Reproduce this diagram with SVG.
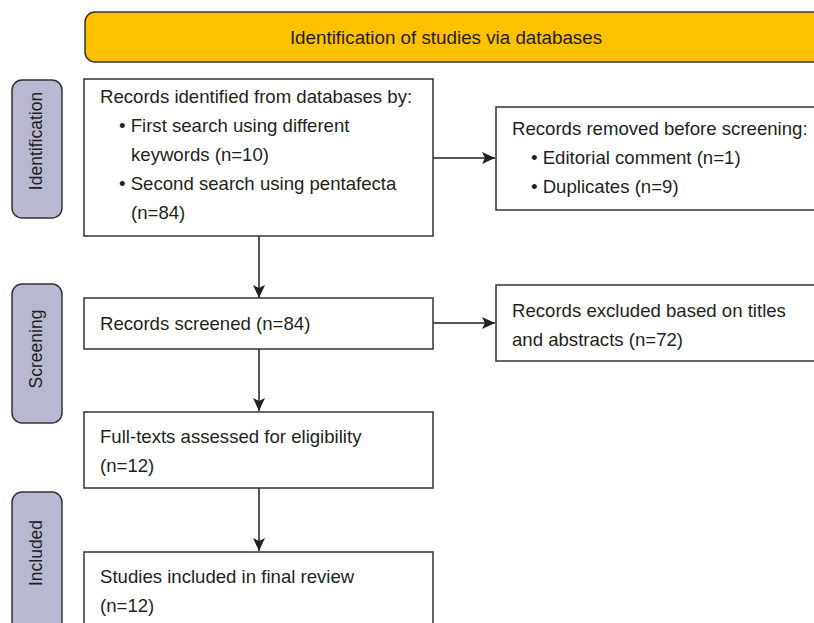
<svg xmlns="http://www.w3.org/2000/svg" width="814" height="623" viewBox="0 0 814 623">
<defs>
<style>
.box{fill:#fff;stroke:#333;stroke-width:1.5}
.pill{fill:#b8b8d1;stroke:#333;stroke-width:1.5}
.banner{fill:#ffc000;stroke:#333;stroke-width:1.5}
.t{font-family:"Liberation Sans",Arial,sans-serif;font-size:18.6px;fill:#231f20}
.pt{font-family:"Liberation Sans",Arial,sans-serif;font-size:17.5px;fill:#231f20;text-anchor:middle}
.bt{font-family:"Liberation Sans",Arial,sans-serif;font-size:18.8px;fill:#231f20;text-anchor:middle}
.c{stroke:#231f20;stroke-width:1.5;fill:none}
</style>
<marker id="ah" markerUnits="userSpaceOnUse" markerWidth="14" markerHeight="12" refX="13" refY="6" orient="auto">
<path d="M0,0 L13,6 L0,12 L3,6 z" fill="#231f20"/>
</marker>
</defs>

<g id="banner">
<rect class="banner" x="85" y="12" width="760" height="50" rx="10"/>
<text class="bt" x="446" y="44">Identification of studies via databases</text>
</g>

<g id="phase-identification">
<rect class="pill" x="12" y="80" width="50" height="138" rx="10"/>
<text class="pt" transform="translate(42,141) rotate(-90)">Identification</text>
</g>
<g id="phase-screening">
<rect class="pill" x="12" y="284" width="50" height="139" rx="10"/>
<text class="pt" transform="translate(42,349) rotate(-90)">Screening</text>
</g>
<g id="phase-included">
<rect class="pill" x="12" y="492" width="50" height="150" rx="10"/>
<text class="pt" transform="translate(42,553) rotate(-90)">Included</text>
</g>

<g id="connectors">
<line class="c" x1="259" y1="236" x2="259" y2="298" marker-end="url(#ah)"/>
<line class="c" x1="259" y1="349" x2="259" y2="411" marker-end="url(#ah)"/>
<line class="c" x1="259" y1="488" x2="259" y2="551" marker-end="url(#ah)"/>
<line class="c" x1="433" y1="158" x2="495" y2="158" marker-end="url(#ah)"/>
<line class="c" x1="433" y1="323" x2="495" y2="323" marker-end="url(#ah)"/>
</g>

<g id="records-identified">
<rect class="box" x="84" y="79" width="349" height="157"/>
<text class="t" x="100" y="103">Records identified from databases by:</text>
<text class="t" x="119" y="132">• First search using different</text>
<text class="t" x="131" y="161">keywords (n=10)</text>
<text class="t" x="119" y="190">• Second search using pentafecta</text>
<text class="t" x="131" y="219">(n=84)</text>
</g>

<g id="records-removed">
<rect class="box" x="496" y="107" width="340" height="103"/>
<text class="t" x="512" y="135">Records removed before screening:</text>
<text class="t" x="531" y="164">• Editorial comment (n=1)</text>
<text class="t" x="531" y="193">• Duplicates (n=9)</text>
</g>

<g id="records-screened">
<rect class="box" x="84" y="298" width="349" height="51"/>
<text class="t" x="100" y="330">Records screened (n=84)</text>
</g>

<g id="records-excluded">
<rect class="box" x="496" y="285" width="340" height="76"/>
<text class="t" x="512" y="317">Records excluded based on titles</text>
<text class="t" x="512" y="346">and abstracts (n=72)</text>
</g>

<g id="full-texts">
<rect class="box" x="84" y="412" width="349" height="76"/>
<text class="t" x="100" y="443">Full-texts assessed for eligibility</text>
<text class="t" x="100" y="472">(n=12)</text>
</g>

<g id="studies-included">
<rect class="box" x="84" y="552" width="349" height="90"/>
<text class="t" x="100" y="583">Studies included in final review</text>
<text class="t" x="100" y="612">(n=12)</text>
</g>
</svg>
